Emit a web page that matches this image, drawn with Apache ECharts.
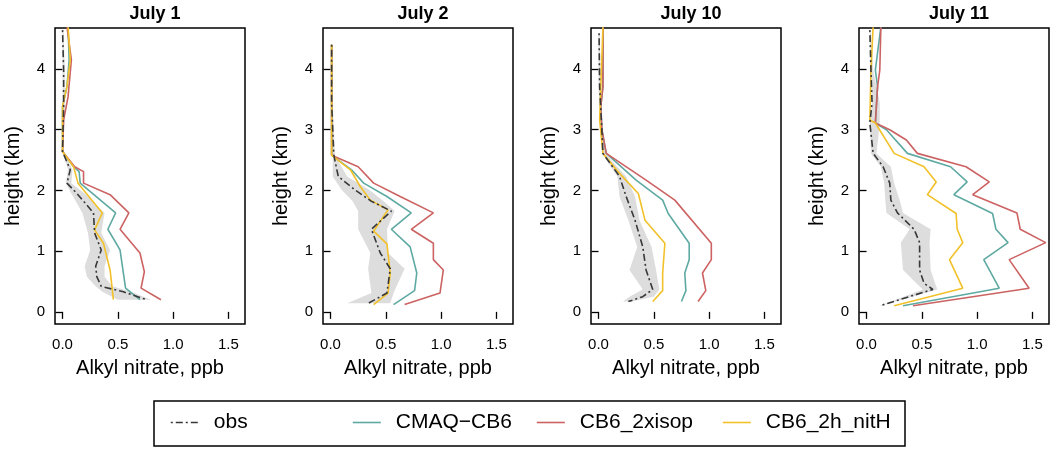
<!DOCTYPE html>
<html>
<head>
<meta charset="utf-8">
<script src="https://cdn.jsdelivr.net/npm/echarts@6/dist/echarts.min.js"></script>
<style>
html, body { margin: 0; padding: 0; background: #fff; }
#main { width: 1050px; height: 449px; }
</style>
</head>
<body>
<div id="main"></div>
<script>
var days = ['July 1', 'July 2', 'July 10', 'July 11'];
var seriesNames = ['obs', 'CMAQ\u2212CB6', 'CB6_2xisop', 'CB6_2h_nitH'];
var xTicks = [0, 0.5, 1, 1.5];
var yTicks = [0, 1, 2, 3, 4];

// profiles: [alkyl nitrate ppb, height km]
var obs1 = [[0.00,4.64],[0.01,3.98],[0.01,3.38],[0.00,2.64],[0.07,2.34],[0.04,2.12],[0.13,1.95],[0.28,1.63],[0.29,1.30],[0.35,1.02],[0.30,0.75],[0.31,0.58],[0.35,0.42],[0.55,0.33],[0.76,0.20]];
var cmaq1 = [[0.05,4.70],[0.06,4.15],[0.04,3.71],[0.00,3.38],[0.00,2.64],[0.10,2.39],[0.15,2.31],[0.16,2.12],[0.48,1.63],[0.41,1.36],[0.52,1.02],[0.57,0.39],[0.70,0.20]];
var xisop1 = [[0.04,4.70],[0.08,4.15],[0.05,3.54],[0.01,3.16],[0.00,2.64],[0.11,2.39],[0.19,2.31],[0.19,2.12],[0.43,1.93],[0.60,1.63],[0.52,1.36],[0.70,0.97],[0.74,0.66],[0.71,0.39],[0.89,0.20]];
var nith1 = [[0.05,4.70],[0.07,4.15],[0.04,3.71],[0.00,3.38],[0.00,2.64],[0.10,2.39],[0.14,2.12],[0.36,1.63],[0.29,1.35],[0.37,1.13],[0.43,0.69],[0.46,0.20]];
// obs spread: [low, high, height]
var band1 = [[0.00,0.01,4.64],[0.00,0.02,3.98],[0.00,0.02,3.38],[0.00,0.01,2.64],[0.05,0.09,2.34],[0.03,0.08,2.12],[0.08,0.20,1.95],[0.18,0.38,1.63],[0.23,0.35,1.30],[0.25,0.43,1.02],[0.20,0.38,0.75],[0.22,0.38,0.58],[0.30,0.45,0.42],[0.36,0.62,0.33],[0.50,0.80,0.20]];

var obs2 = [[0.01,4.40],[0.01,3.44],[0.03,2.58],[0.07,2.23],[0.22,2.01],[0.37,1.82],[0.55,1.66],[0.37,1.36],[0.45,0.97],[0.54,0.71],[0.51,0.31],[0.34,0.14]];
var cmaq2 = [[0.01,4.40],[0.01,2.58],[0.19,2.34],[0.30,2.12],[0.51,1.90],[0.73,1.63],[0.55,1.36],[0.72,1.07],[0.78,0.64],[0.76,0.35],[0.57,0.12]];
var xisop2 = [[0.01,4.40],[0.01,2.58],[0.25,2.39],[0.39,2.12],[0.63,1.90],[0.93,1.63],[0.73,1.36],[0.93,1.13],[0.93,0.86],[1.02,0.69],[0.99,0.31],[0.67,0.12]];
var nith2 = [[0.01,4.40],[0.01,2.58],[0.18,2.34],[0.27,2.06],[0.36,1.84],[0.52,1.68],[0.39,1.33],[0.51,1.12],[0.54,0.64],[0.52,0.31],[0.39,0.12]];
var band2 = [[0.01,0.02,4.40],[0.01,0.02,3.44],[0.02,0.04,2.58],[0.02,0.15,2.23],[0.10,0.35,2.01],[0.20,0.48,1.82],[0.25,0.58,1.66],[0.25,0.51,1.36],[0.36,0.52,0.97],[0.34,0.67,0.71],[0.37,0.57,0.31],[0.15,0.54,0.14]];

var obs3 = [[0.005,4.59],[0.01,3.71],[0.03,3.00],[0.04,2.61],[0.19,2.23],[0.25,1.90],[0.33,1.51],[0.40,1.07],[0.43,0.69],[0.49,0.37],[0.40,0.25],[0.27,0.17]];
var cmaq3 = [[0.04,4.70],[0.04,3.71],[0.02,3.38],[0.03,3.00],[0.07,2.61],[0.34,2.17],[0.58,1.84],[0.63,1.62],[0.82,1.13],[0.82,0.86],[0.78,0.64],[0.79,0.35],[0.75,0.17]];
var xisop3 = [[0.04,4.70],[0.04,3.71],[0.02,3.38],[0.03,3.00],[0.07,2.61],[0.43,2.17],[0.69,1.84],[1.02,1.13],[1.02,0.86],[0.94,0.64],[0.97,0.35],[0.90,0.17]];
var nith3 = [[0.04,4.70],[0.01,3.16],[0.04,2.61],[0.19,2.28],[0.36,1.95],[0.42,1.51],[0.60,1.13],[0.58,0.64],[0.58,0.35],[0.49,0.17]];
var band3 = [[0.00,0.01,4.59],[0.00,0.02,3.71],[0.02,0.04,3.00],[0.03,0.06,2.61],[0.17,0.25,2.23],[0.19,0.33,1.90],[0.27,0.37,1.51],[0.35,0.48,1.07],[0.28,0.52,0.69],[0.40,0.55,0.37],[0.28,0.50,0.25],[0.22,0.30,0.17]];

var obs4 = [[0.03,4.64],[0.04,3.98],[0.05,3.44],[0.03,3.11],[0.06,2.61],[0.15,2.39],[0.21,2.12],[0.22,1.84],[0.28,1.63],[0.43,1.36],[0.48,1.14],[0.48,0.69],[0.52,0.47],[0.60,0.37],[0.12,0.10]];
var cmaq4 = [[0.13,4.70],[0.08,3.98],[0.10,3.71],[0.08,3.11],[0.18,3.00],[0.37,2.61],[0.76,2.39],[0.91,2.14],[0.79,1.93],[1.14,1.62],[1.17,1.36],[1.28,1.14],[1.06,0.86],[1.20,0.39],[0.33,0.10]];
var xisop4 = [[0.13,4.70],[0.12,3.98],[0.10,3.71],[0.08,3.11],[0.21,3.00],[0.36,2.83],[0.46,2.61],[0.90,2.39],[1.11,2.14],[0.96,1.93],[1.36,1.63],[1.39,1.36],[1.62,1.14],[1.29,0.86],[1.47,0.39],[0.42,0.10]];
var nith4 = [[0.06,4.70],[0.04,3.98],[0.03,3.16],[0.08,3.11],[0.25,2.61],[0.52,2.39],[0.63,2.14],[0.55,1.93],[0.81,1.62],[0.82,1.36],[0.87,1.14],[0.75,0.86],[0.87,0.39],[0.25,0.10]];
var band4 = [[0.03,0.04,4.64],[0.04,0.06,3.98],[0.05,0.12,3.44],[0.03,0.12,3.11],[0.04,0.09,2.61],[0.13,0.22,2.39],[0.16,0.25,2.12],[0.17,0.30,1.84],[0.18,0.33,1.63],[0.39,0.58,1.36],[0.31,0.57,1.14],[0.33,0.58,0.69],[0.45,0.62,0.47],[0.51,0.64,0.37],[0.12,0.13,0.10]];

var panels = [
    {obs: obs1, cmaq: cmaq1, xisop: xisop1, nith: nith1, band: band1},
    {obs: obs2, cmaq: cmaq2, xisop: xisop2, nith: nith2, band: band2},
    {obs: obs3, cmaq: cmaq3, xisop: xisop3, nith: nith3, band: band3},
    {obs: obs4, cmaq: cmaq4, xisop: xisop4, nith: nith4, band: band4}
];

var colors = {obs: '#383838', cmaq: '#5ea9a2', xisop: '#cc6262', nith: '#f2c12a', band: '#dddddd'};
var font = 'Liberation Sans, Arial, sans-serif';

var myChart = echarts.init(document.getElementById('main'), null, {renderer: 'canvas'});

var grids = [], xAxes = [], yAxes = [], titles = [], series = [];
var lefts = [55, 323, 591, 859];
var gw = 190;

// grey spread polygon: up the low edge, back down the high edge
function bandRender(rows) {
    return function (params, api) {
        if (params.dataIndexInside !== 0) return;
        var pts = [];
        for (var i = 0; i < rows.length; i++) pts.push(api.coord([rows[i][0], rows[i][2]]));
        for (var j = rows.length - 1; j >= 0; j--) pts.push(api.coord([rows[j][1], rows[j][2]]));
        return {type: 'polygon', shape: {points: pts}, style: {fill: colors.band}, silent: true};
    };
}

panels.forEach(function (p, k) {
    grids.push({left: lefts[k], top: 28, width: gw, height: 296, show: true,
        borderColor: '#000', borderWidth: 1.5, backgroundColor: 'transparent'});
    titles.push({text: days[k], left: lefts[k] + gw / 2, top: 0, textAlign: 'center',
        textStyle: {fontFamily: font, fontSize: 18, fontWeight: 'bold', color: '#000'}});
    xAxes.push({
        gridIndex: k, type: 'value', min: -0.068, max: 1.65,
        name: 'Alkyl nitrate, ppb', nameLocation: 'middle', nameGap: 34,
        nameTextStyle: {fontFamily: font, fontSize: 20, color: '#000'},
        axisLine: {show: false}, splitLine: {show: false},
        axisTick: {show: true, length: 7, customValues: xTicks, lineStyle: {color: '#000', width: 1.3}},
        axisLabel: {customValues: xTicks, margin: 13, fontFamily: font, fontSize: 15, color: '#000',
            formatter: function (v) { return v.toFixed(1); }}
    });
    yAxes.push({
        gridIndex: k, type: 'value', min: -0.2, max: 4.675,
        name: 'height (km)', nameLocation: 'middle', nameGap: 32,
        nameTextStyle: {fontFamily: font, fontSize: 20, color: '#000'},
        axisLine: {show: false}, splitLine: {show: false},
        axisTick: {show: true, length: 7, customValues: yTicks, lineStyle: {color: '#000', width: 1.3}},
        axisLabel: {customValues: yTicks, margin: 10, fontFamily: font, fontSize: 15, color: '#000'}
    });
    series.push({
        type: 'custom', xAxisIndex: k, yAxisIndex: k, silent: true, z: 1,
        encode: {x: [0, 1], y: 2}, data: p.band, renderItem: bandRender(p.band)
    });
    series.push({name: seriesNames[0], type: 'line', xAxisIndex: k, yAxisIndex: k, data: p.obs,
        symbol: 'none', z: 3, lineStyle: {color: colors.obs, width: 1.6, type: [2, 3, 7, 3]}, itemStyle: {color: colors.obs}});
    series.push({name: seriesNames[1], type: 'line', xAxisIndex: k, yAxisIndex: k, data: p.cmaq,
        symbol: 'none', z: 2, lineStyle: {color: colors.cmaq, width: 1.6}, itemStyle: {color: colors.cmaq}});
    series.push({name: seriesNames[2], type: 'line', xAxisIndex: k, yAxisIndex: k, data: p.xisop,
        symbol: 'none', z: 2, lineStyle: {color: colors.xisop, width: 1.6}, itemStyle: {color: colors.xisop}});
    series.push({name: seriesNames[3], type: 'line', xAxisIndex: k, yAxisIndex: k, data: p.nith,
        symbol: 'none', z: 2, lineStyle: {color: colors.nith, width: 1.6}, itemStyle: {color: colors.nith}});
});

var legendLefts = [170, 352, 536, 722];
var legends = seriesNames.map(function (n, i) {
    return {data: [n], left: legendLefts[i], top: 412, padding: 0, selectedMode: false,
        itemWidth: 28, itemHeight: 14,
        itemStyle: {color: 'rgba(0,0,0,0)', borderWidth: 0, opacity: 0},
        lineStyle: {width: 1.6},
        textStyle: {fontFamily: font, fontSize: 21, color: '#000', padding: [0, 0, 0, 10]}};
});

option = {
    animation: false,
    textStyle: {fontFamily: font},
    title: titles,
    grid: grids,
    xAxis: xAxes,
    yAxis: yAxes,
    legend: legends,
    graphic: [{type: 'rect', shape: {x: 154, y: 401, width: 751, height: 45},
        style: {fill: null, stroke: '#000', lineWidth: 1.5}, silent: true}],
    series: series
};

myChart.setOption(option);
</script>
</body>
</html>
